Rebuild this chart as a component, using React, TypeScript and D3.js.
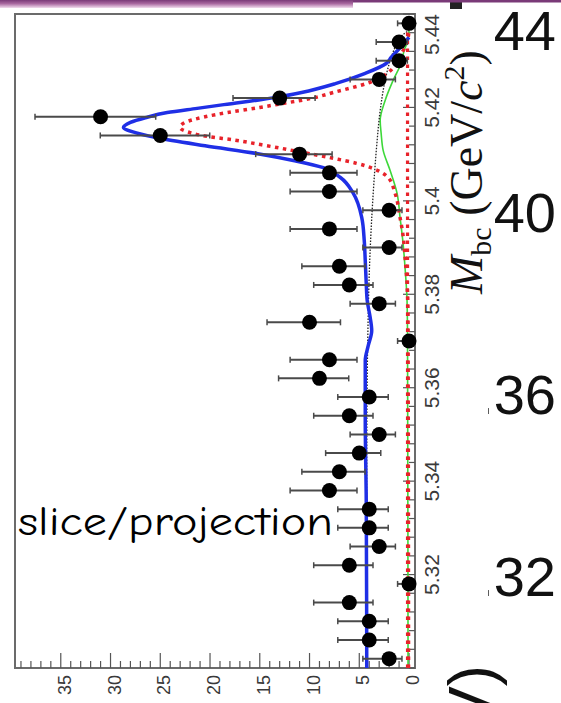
import React from "react";
import * as d3 from "d3";

const W = 561;
const H = 703;

// Mbc bin centres (GeV/c^2), 4 MeV wide bins
const binCenters = [
  5.302, 5.306, 5.31, 5.314, 5.318, 5.322, 5.326, 5.33, 5.334, 5.338, 5.342, 5.346,
  5.35, 5.354, 5.358, 5.362, 5.366, 5.37, 5.374, 5.378, 5.382, 5.386, 5.39, 5.394,
  5.398, 5.402, 5.406, 5.41, 5.414, 5.418, 5.422, 5.426, 5.43, 5.434, 5.438,
];
// events per bin
const counts = [
  2, 4, 4, 6, 0, 6, 3, 4, 4, 8, 7, 5, 3, 6, 4, 9, 8, 0, 10, 3, 6, 7, 2, 8, 2, 8, 8, 11,
  25, 31, 13, 3, 1, 1, 0,
];
// asymmetric Poisson errors
const errLow = [
  1.29, 1.91, 1.91, 2.38, 0, 2.38, 1.63, 1.91, 1.91, 2.77, 2.58, 2.16, 1.63, 2.38, 1.91,
  2.94, 2.77, 0, 3.11, 1.63, 2.38, 2.58, 1.29, 2.77, 1.29, 2.77, 2.77, 3.27, 4.97, 5.54,
  3.56, 1.63, 0.83, 0.83, 0,
];
const errHigh = [
  2.64, 3.16, 3.16, 3.58, 1.15, 3.58, 2.92, 3.16, 3.16, 3.95, 3.77, 3.38, 2.92, 3.58, 3.16,
  4.11, 3.95, 1.15, 4.27, 2.92, 3.58, 3.77, 2.64, 3.95, 2.64, 3.95, 3.95, 4.41, 6.03, 6.59,
  4.69, 2.92, 2.3, 2.3, 1.15,
];

// fit projections: [Mbc, events]
const totalFit: [number, number][] = [
  [5.3, 4.25], [5.3358, 4.3], [5.353, 4.4], [5.3658, 4.4], [5.369, 4.1], [5.3722, 3.75],
  [5.375, 3.9], [5.3786, 4.2], [5.3823, 4.3], [5.3872, 4.4], [5.3915, 4.5], [5.3964, 4.75],
  [5.4016, 5.6], [5.405, 6.9], [5.4071, 8.6], [5.4086, 11.5], [5.4101, 15.2], [5.4118, 20.5],
  [5.4135, 25.3], [5.4146, 27.5], [5.4157, 28.7], [5.4168, 28.0], [5.4178, 26.5],
  [5.4189, 24.3], [5.4198, 21.3], [5.4206, 18.6], [5.4221, 13.5], [5.4232, 10.8],
  [5.4251, 7.4], [5.4273, 4.4], [5.4294, 2.3], [5.4307, 1.8], [5.4337, 0.5], [5.435, 0],
];
const signalFit: [number, number][] = [
  [5.3, 0.05], [5.3744, 0.1], [5.3823, 0.2], [5.3879, 0.4], [5.3926, 0.6], [5.3964, 0.9],
  [5.4016, 1.4], [5.405, 2.1], [5.4069, 3.6], [5.408, 5.2], [5.4091, 7.6], [5.4105, 11.0],
  [5.412, 14.8], [5.413, 17.5], [5.4138, 20.3], [5.4146, 22.0], [5.4157, 23.0],
  [5.4168, 22.5], [5.418, 20.5], [5.4189, 18.3], [5.42, 15.0], [5.4208, 12.8],
  [5.4219, 9.9], [5.4232, 7.6], [5.4251, 4.3], [5.4273, 2.2], [5.4294, 1.3],
  [5.4311, 0.9], [5.4333, 0.3], [5.4365, 0],
];
const argusBkg: [number, number][] = [
  [5.3, 4.3], [5.3465, 4.25], [5.3701, 4.15], [5.3872, 3.95], [5.4016, 3.6], [5.4118, 3.25],
  [5.4193, 2.9], [5.4258, 2.4], [5.43, 1.9], [5.4333, 1.3], [5.4354, 0.7], [5.4365, 0],
];
const peakingBkg: [number, number][] = [
  [5.3, 0.1], [5.3701, 0.15], [5.3786, 0.2], [5.3857, 0.4], [5.3909, 0.6], [5.3964, 0.9],
  [5.4016, 1.2], [5.4065, 1.9], [5.4108, 2.6], [5.4144, 2.8], [5.4172, 2.9], [5.4215, 2.4],
  [5.4258, 1.6], [5.43, 0.7], [5.4322, 0.5], [5.4343, 0.1], [5.4365, 0],
];
const minorComp: [number, number][] = [
  [5.3, 0.15], [5.4365, 0.15],
];

const mbcMajorTicks = [5.32, 5.34, 5.36, 5.38, 5.4, 5.42, 5.44];
const mbcTickLabels = ["5.32", "5.34", "5.36", "5.38", "5.4", "5.42", "5.44"];
const countMajorTicks = [0, 5, 10, 15, 20, 25, 30, 35];
const countTickLabels = ["0", "5", "10", "15", "20", "25", "30", "35"];

// labels of the large plot behind the panel
const backLabels = ["44", "40", ".36", ".32"];
const backLabelValues = [44, 40, 36, 32];

const frame = { left: 15, right: 415, top: 14, bottom: 668 };

export default function App() {
  const x = d3.scaleLinear().domain([-0.6, 39.6]).range([frame.right, frame.left]);
  const y = d3.scaleLinear().domain([5.3, 5.44]).range([frame.bottom, frame.top]);
  const backY = d3.scaleLinear().domain([32, 44]).range([596, 50]);

  const line = d3
    .line<[number, number]>()
    .x((d) => x(d[1]))
    .y((d) => y(d[0]))
    .curve(d3.curveMonotoneY);

  const mbcMinor = d3.range(5.3, 5.4401, 0.004).map((v) => +v.toFixed(3));
  const countMinor = d3.range(0, 40, 1);

  const axisColor = "#555";
  const labelColor = "#3a3a3a";

  return (
    <svg
      width={W}
      height={H}
      viewBox={`0 0 ${W} ${H}`}
      style={{ position: "absolute", left: 0, top: 0, background: "#fff" }}
    >
      <defs>
        <linearGradient id="band" x1="0" y1="0" x2="0" y2="1">
          <stop offset="0" stopColor="#7a3a78" />
          <stop offset="0.45" stopColor="#a8679f" />
          <stop offset="1" stopColor="#f2dcee" />
        </linearGradient>
        <clipPath id="plotArea">
          <rect x={frame.left} y={frame.top} width={frame.right - frame.left} height={frame.bottom - frame.top} />
        </clipPath>
        <clipPath id="backClip">
          <rect x={488} y={0} width={W - 488} height={H} />
        </clipPath>
      </defs>

      {/* labels of the underlying large plot */}
      <g clipPath="url(#backClip)" fontFamily="'Liberation Sans', Arial, sans-serif" fontSize={56} fill="#111">
        {backLabels.map((t, i) => (
          <text key={t} x={556} y={backY(backLabelValues[i])} textAnchor="end">
            {t}
          </text>
        ))}
      </g>
      <rect x={450} y={0} width={12} height={9} fill="#222" />
      <text
        transform={`translate(494,665) rotate(-90)`}
        fontFamily="'Liberation Sans', Arial, sans-serif"
        fontSize={64}
        fill="#111"
        textAnchor="end"
      >
        GeV)
      </text>

      {/* slide header band */}
      <rect x={0} y={0} width={W} height={2.5} fill="#7a3a78" />
      <rect x={0} y={0} width={353} height={8} fill="url(#band)" />

      {/* frame */}
      <rect
        x={frame.left}
        y={frame.top}
        width={frame.right - frame.left}
        height={frame.bottom - frame.top}
        fill="#fff"
        stroke="#6b6b6b"
        strokeWidth={2}
      />

      {/* count axis ticks (bottom) */}
      {countMinor.map((c) => (
        <line
          key={`cm${c}`}
          x1={x(c)}
          x2={x(c)}
          y1={frame.bottom}
          y2={frame.bottom - (c % 5 === 0 ? 15 : 7)}
          stroke={axisColor}
          strokeWidth={1.2}
        />
      ))}
      {countMajorTicks.map((c, i) => (
        <text
          key={`cl${c}`}
          transform={`translate(${x(c) + 10},675) rotate(-90)`}
          textAnchor="end"
          fontFamily="'Liberation Sans', Arial, sans-serif"
          fontSize={18}
          fill={labelColor}
        >
          {countTickLabels[i]}
        </text>
      ))}

      {/* Mbc axis ticks (right) */}
      {mbcMinor.map((m) => {
        const major = mbcMajorTicks.some((t) => Math.abs(t - m) < 1e-6);
        return (
          <line
            key={`mm${m}`}
            x1={frame.right}
            x2={frame.right - (major ? 12 : 6)}
            y1={y(m)}
            y2={y(m)}
            stroke={axisColor}
            strokeWidth={1.2}
          />
        );
      })}
      {mbcMajorTicks.map((m, i) => {
        const atTop = i === mbcMajorTicks.length - 1;
        return (
          <text
            key={`ml${m}`}
            transform={`translate(439,${y(m)}) rotate(-90)`}
            textAnchor={atTop ? "end" : "middle"}
            fontFamily="'Liberation Sans', Arial, sans-serif"
            fontSize={21}
            fill={labelColor}
          >
            {mbcTickLabels[i]}
          </text>
        );
      })}

      {/* axis title */}
      <text
        transform="translate(482,294) rotate(-90)"
        fontFamily="'Liberation Serif', 'Times New Roman', serif"
        fontSize={46}
        fill="#111"
      >
        <tspan fontStyle="italic">M</tspan>
        <tspan fontSize={30} dy={9}>bc</tspan>
        <tspan dy={-9}> (GeV/</tspan>
        <tspan fontStyle="italic">c</tspan>
        <tspan fontSize={30} dy={-18}>2</tspan>
        <tspan dy={18}>)</tspan>
      </text>

      {/* fit projections */}
      <g clipPath="url(#plotArea)" fill="none">
        <path d={line(peakingBkg) ?? ""} stroke="#3ed83a" strokeWidth={1.6} />
        <path d={line(argusBkg) ?? ""} stroke="#222" strokeWidth={1.3} strokeDasharray="1.5 1.5" />
        <path d={line(minorComp) ?? ""} stroke="#e8222a" strokeWidth={3.2} strokeDasharray="3.5 4.5" />
        <path d={line(signalFit) ?? ""} stroke="#e8222a" strokeWidth={3.5} strokeDasharray="3.5 4.5" />
        <path d={line(totalFit) ?? ""} stroke="#1f2fe6" strokeWidth={3.5} />
      </g>

      {/* data points */}
      <g>
        {binCenters.map((m, i) => {
          const cy = y(m);
          const xl = x(counts[i] + errHigh[i]);
          const xr = x(counts[i] - errLow[i]);
          return (
            <g key={`p${i}`}>
              <line x1={xl} x2={xr} y1={cy} y2={cy} stroke="#4a4a4a" strokeWidth={2} />
              <line x1={xl} x2={xl} y1={cy - 3} y2={cy + 3} stroke="#4a4a4a" strokeWidth={1.5} />
              {errLow[i] > 0 && (
                <line x1={xr} x2={xr} y1={cy - 3} y2={cy + 3} stroke="#4a4a4a" strokeWidth={1.5} />
              )}
              <circle cx={x(counts[i])} cy={cy} r={7.5} fill="#000" />
            </g>
          );
        })}
      </g>

      {/* annotation */}
      <text
        x={18}
        y={535}
        fontFamily="'Comic Sans MS', 'Comic Neue', 'DejaVu Sans', sans-serif"
        fontSize={40}
        textLength={315}
        lengthAdjust="spacingAndGlyphs"
        fill="#000"
      >
        slice/projection
      </text>
    </svg>
  );
}
